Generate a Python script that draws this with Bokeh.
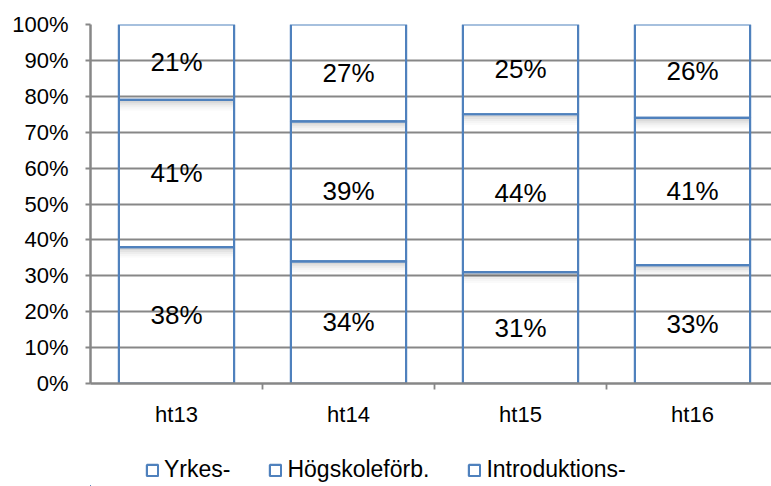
from bokeh.plotting import figure
from bokeh.layouts import column
from bokeh.models import Range1d, FixedTicker, Legend, LegendItem, ColumnDataSource
from bokeh.core.properties import value
from bokeh.embed import file_html
from bokeh.resources import INLINE

cats = ["ht13", "ht14", "ht15", "ht16"]
yrkes = [38, 34, 31, 33]
hogsk = [41, 39, 44, 41]
intro = [21, 27, 25, 26]
series_names = ["Yrkes-", "Högskoleförb.", "Introduktions-"]
y_ticks = [0, 10, 20, 30, 40, 50, 60, 70, 80, 90, 100]

FONT = "Liberation Sans"
BLUE = "#4F81BD"
GRID = "#878787"

x = list(range(len(cats)))
p = figure(width=771, height=440, output_backend="svg", toolbar_location=None,
           x_range=Range1d(-0.5, -0.5 + 681 / 172), y_range=Range1d(0, 100),
           min_border_left=90, min_border_right=0, min_border_top=24, min_border_bottom=57)
p.outline_line_color = None
p.xgrid.grid_line_color = None
p.ygrid.grid_line_color = GRID
p.ygrid.grid_line_width = 1.8
p.ygrid.ticker = FixedTicker(ticks=y_ticks)

bw = 0.67
series = [yrkes, hogsk, intro]
bottoms = [0] * len(cats)
sources = []
for vals in series:
    tops = [b + v for b, v in zip(bottoms, vals)]
    # soft shadow under the top edge of each inner segment boundary
    if max(tops) < 100:
        for k, a in enumerate([0.16, 0.11, 0.07, 0.04, 0.02]):
            p.vbar(x=x, top=[t - 0.25 - 0.55 * k for t in tops],
                   bottom=[t - 0.25 - 0.55 * (k + 1) for t in tops], width=bw,
                   fill_color="#000000", fill_alpha=a, line_color=None)
    src = ColumnDataSource(dict(x=x, top=tops, bottom=bottoms,
                                mid=[(b + t) / 2 for b, t in zip(bottoms, tops)],
                                lab=[f"{v}%" for v in vals]))
    sources.append(src)
    p.vbar(x="x", top="top", bottom="bottom", width=bw, source=src,
           fill_color=None, line_color=BLUE, line_width=2.2)
    p.text(x="x", y="mid", text="lab", source=src, text_align="center",
           text_baseline="middle", text_font=value(FONT), text_font_size="26px",
           text_color="#000000")
    bottoms = tops

# axes
p.yaxis.ticker = FixedTicker(ticks=y_ticks)
p.yaxis.major_label_overrides = {t: f"{t}%" for t in y_ticks}
p.yaxis.axis_line_color = GRID
p.yaxis.axis_line_width = 2.5
p.yaxis.major_tick_line_color = GRID
p.yaxis.major_tick_line_width = 1.8
p.yaxis.major_tick_in = 0
p.yaxis.major_tick_out = 5
p.yaxis.minor_tick_line_color = None
p.yaxis.major_label_standoff = 17
p.yaxis.major_label_text_font = FONT
p.yaxis.major_label_text_font_size = "22px"
p.yaxis.major_label_text_color = "#000000"

p.xaxis.ticker = FixedTicker(ticks=x, minor_ticks=[i + 0.5 for i in x])
p.xaxis.major_label_overrides = {i: c for i, c in zip(x, cats)}
p.xaxis.axis_line_color = GRID
p.xaxis.axis_line_width = 2.5
p.xaxis.major_tick_line_color = None
p.xaxis.major_tick_out = 6
p.xaxis.minor_tick_line_color = GRID
p.xaxis.minor_tick_line_width = 1.8
p.xaxis.minor_tick_in = 0
p.xaxis.minor_tick_out = 6
p.xaxis.major_label_standoff = 12
p.xaxis.major_label_text_font = FONT
p.xaxis.major_label_text_font_size = "22px"
p.xaxis.major_label_text_color = "#000000"

# legend strip below the chart (series glyphs kept outside its visible range)
lg = figure(width=771, height=46, output_backend="svg", toolbar_location=None,
            x_range=Range1d(1000, 1001), y_range=Range1d(1000, 1001),
            x_axis_type=None, y_axis_type=None,
            min_border_left=90, min_border_right=0, min_border_top=0, min_border_bottom=0)
lg.outline_line_color = None
lg.xgrid.grid_line_color = None
lg.ygrid.grid_line_color = None
leg_r = [lg.vbar(x="x", top="top", bottom="bottom", width=bw, source=s,
                 fill_color="#FFFFFF", line_color=BLUE, line_width=2.2) for s in sources]
legend = Legend(items=[LegendItem(label=n, renderers=[r]) for n, r in zip(series_names, leg_r)],
                orientation="horizontal", location=(55, 3),
                label_text_font=FONT, label_text_font_size="23px", label_text_color="#000000",
                glyph_width=14, glyph_height=14, label_standoff=5, spacing=38,
                border_line_color=None, background_fill_alpha=0, margin=0, padding=0)
lg.add_layout(legend, "center")

open("out.html", "w").write(file_html(column(p, lg), INLINE))
